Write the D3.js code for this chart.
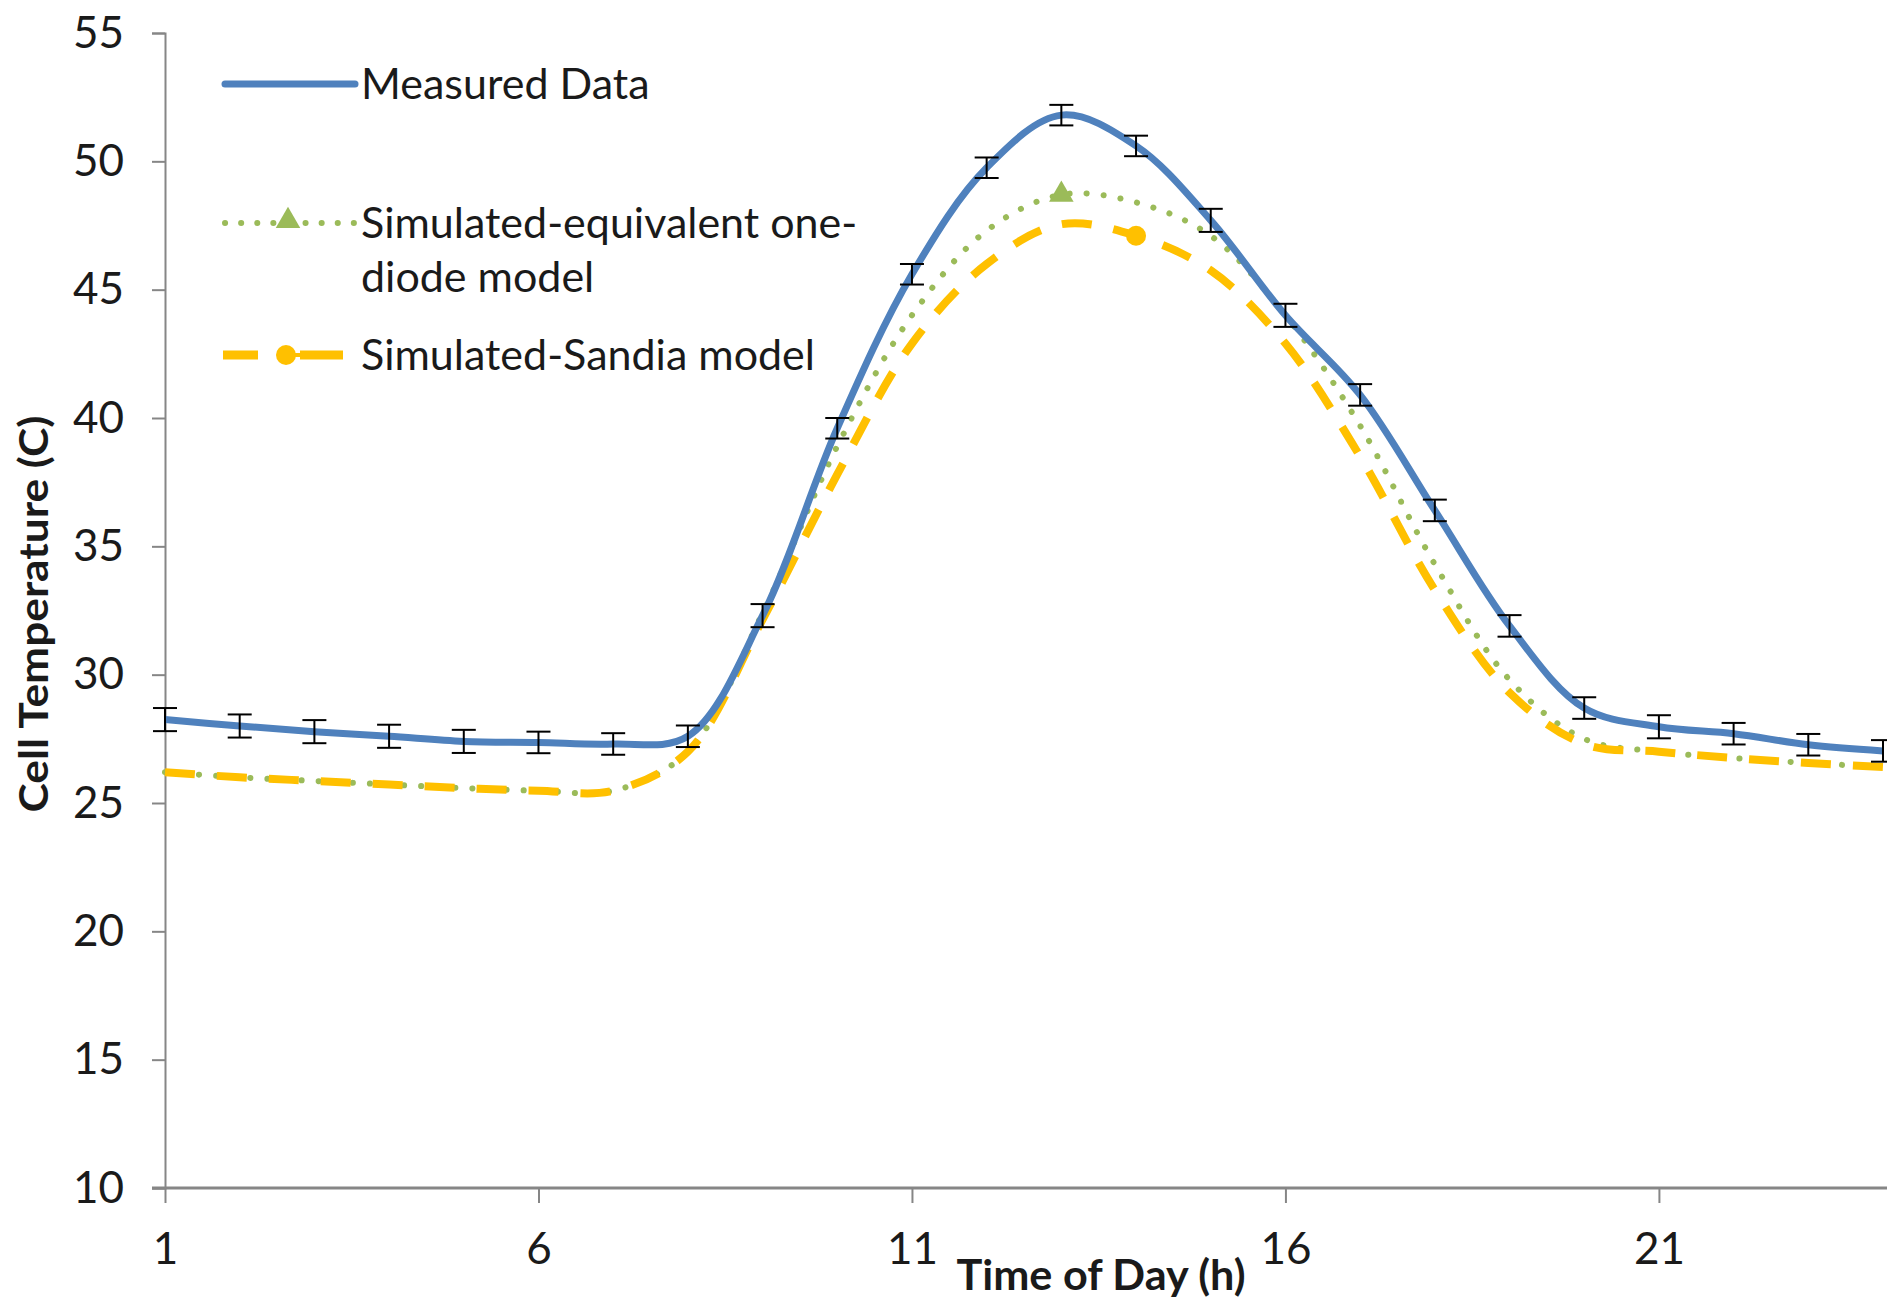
<!DOCTYPE html>
<html><head><meta charset="utf-8">
<script src="https://cdn.jsdelivr.net/npm/d3@7"></script>
<style>body{margin:0;background:#fff}svg{display:block}text{font-family:Lato,"Open Sans",sans-serif;fill:#1a1a1a}</style>
</head><body>
<svg id="c" width="1887" height="1304"></svg>
<script>
const hours = [1,2,3,4,5,6,7,8,9,10,11,12,13,14,15,16,17,18,19,20,21,22,23,24];
const measured = [28.25,28.0,27.78,27.6,27.4,27.36,27.3,27.6,32.3,39.6,45.6,49.75,51.8,50.6,47.7,44.0,40.9,36.4,31.9,28.7,27.97,27.7,27.27,27.03];
const measuredErr = [0.45,0.45,0.45,0.45,0.45,0.42,0.42,0.42,0.45,0.4,0.4,0.4,0.4,0.4,0.45,0.45,0.42,0.42,0.42,0.42,0.45,0.42,0.42,0.42];
const oneDiode = [26.2,26.0,25.86,25.72,25.58,25.48,25.48,27.0,32.4,38.9,44.0,47.3,48.7,48.4,47.1,44.0,39.7,34.3,29.8,27.5,27.0,26.75,26.56,26.4];
const sandia = [26.2,26.0,25.86,25.72,25.58,25.48,25.48,27.0,32.15,37.8,42.9,46.0,47.55,47.1,45.75,42.9,38.5,33.3,29.3,27.3,27.0,26.75,26.56,26.4];
const yTicks = [10,15,20,25,30,35,40,45,50,55];
const xTicks = [1,6,11,16,21];
const seriesNames = ["Measured Data","Simulated-equivalent one-","diode model","Simulated-Sandia model"];
const oneDiodeMarkerHour = 13, sandiaMarkerHour = 14;

const svg = d3.select("#c");
const x = d3.scaleLinear().domain([1,24]).range([165,1883]);
const y = d3.scaleLinear().domain([10,55]).range([1188,33]);
const axisColor = "#868686";

// Y axis
const ya = svg.append("g").attr("transform","translate(165,0)")
  .call(d3.axisLeft(y).tickValues(yTicks).tickSize(13).tickPadding(28));
ya.select(".domain").attr("stroke",axisColor).attr("stroke-width",2);
ya.selectAll(".tick line").attr("stroke",axisColor).attr("stroke-width",2);
ya.selectAll(".tick text").attr("font-size",44).attr("fill","#1a1a1a").attr("font-family","Lato");

// X axis
const xa = svg.append("g").attr("transform","translate(0,1188)")
  .call(d3.axisBottom(x).tickValues(xTicks).tickSize(15).tickSizeOuter(0).tickPadding(30));
xa.select(".domain").attr("stroke",axisColor).attr("stroke-width",3).attr("d","M152,0H1887");
xa.selectAll(".tick line").attr("stroke",axisColor).attr("stroke-width",2);
xa.selectAll(".tick text").attr("font-size",44).attr("fill","#1a1a1a").attr("font-family","Lato");

const curve = d3.curveCatmullRom.alpha(0.5);
const line = d3.line().x((d,i)=>x(hours[i])).y(d=>y(d)).curve(curve);

svg.append("path").datum(oneDiode).attr("d",line).attr("fill","none")
  .attr("stroke","#9BBB59").attr("stroke-width",6).attr("stroke-linecap","round").attr("stroke-dasharray","0.1 17");
svg.append("path").datum(sandia).attr("d",line).attr("fill","none")
  .attr("stroke","#FFC000").attr("stroke-width",8).attr("stroke-dasharray","30 22");
svg.append("path").datum(measured).attr("d",line).attr("fill","none")
  .attr("stroke","#4F81BD").attr("stroke-width",7);

// error bars
const eb = svg.append("g").attr("stroke","#000").attr("stroke-width",2);
measured.forEach((v,i)=>{
  const cx = x(hours[i]), y0 = y(v-measuredErr[i]), y1 = y(v+measuredErr[i]);
  eb.append("line").attr("x1",cx).attr("x2",cx).attr("y1",y0).attr("y2",y1);
  eb.append("line").attr("x1",cx-12).attr("x2",cx+12).attr("y1",y0).attr("y2",y0);
  eb.append("line").attr("x1",cx-12).attr("x2",cx+12).attr("y1",y1).attr("y2",y1);
});

// markers
const tri = d3.symbol().type(d3.symbolTriangle).size(260);
const mi = hours.indexOf(oneDiodeMarkerHour);
svg.append("path").attr("d",tri()).attr("fill","#9BBB59")
  .attr("transform",`translate(${x(hours[mi])},${y(oneDiode[mi])})`);
const si = hours.indexOf(sandiaMarkerHour);
svg.append("circle").attr("cx",x(hours[si])).attr("cy",y(sandia[si])).attr("r",10).attr("fill","#FFC000");

// Legend
const lg = svg.append("g");
lg.append("line").attr("x1",225).attr("x2",355).attr("y1",84).attr("y2",84).attr("stroke","#4F81BD").attr("stroke-width",7).attr("stroke-linecap","round");
lg.append("line").attr("x1",225).attr("x2",355).attr("y1",223).attr("y2",223).attr("stroke","#9BBB59").attr("stroke-width",6).attr("stroke-linecap","round").attr("stroke-dasharray","0.1 16");
lg.append("path").attr("d",tri()).attr("fill","#9BBB59").attr("transform","translate(288,221)");
lg.append("line").attr("x1",223).attr("x2",258).attr("y1",355).attr("y2",355).attr("stroke","#FFC000").attr("stroke-width",9);
lg.append("line").attr("x1",300).attr("x2",343).attr("y1",355).attr("y2",355).attr("stroke","#FFC000").attr("stroke-width",9);
lg.append("line").attr("x1",280).attr("x2",300).attr("y1",355).attr("y2",355).attr("stroke","#FFC000").attr("stroke-width",4);
lg.append("circle").attr("cx",286).attr("cy",355).attr("r",10).attr("fill","#FFC000");
const lt = [[seriesNames[0],99],[seriesNames[1],238],[seriesNames[2],292],[seriesNames[3],370]];
lt.forEach(([t,b])=>lg.append("text").attr("x",361).attr("y",b).attr("font-size",43).text(t));

// Axis titles
svg.append("text").attr("x",1101).attr("y",1290).attr("text-anchor","middle")
  .attr("font-size",42).attr("font-weight","bold")
  .attr("textLength",289).attr("lengthAdjust","spacingAndGlyphs").text("Time of Day (h)");
svg.append("text").attr("transform","translate(48,614) rotate(-90)").attr("text-anchor","middle")
  .attr("font-size",40).attr("font-weight","bold")
  .attr("textLength",397).attr("lengthAdjust","spacingAndGlyphs").text("Cell Temperature (C)");
</script>
</body></html>
